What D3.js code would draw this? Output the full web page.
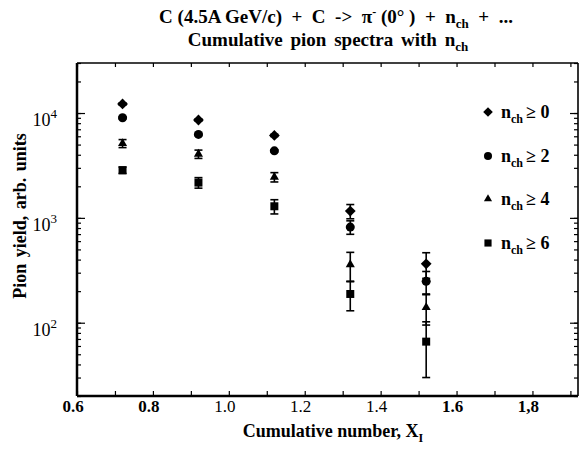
<!DOCTYPE html>
<html><head><meta charset="utf-8">
<script src="https://cdn.jsdelivr.net/npm/d3@7"></script>
<style>
html,body{margin:0;padding:0;background:#fff;}
svg{display:block;font-family:"Liberation Serif","Times New Roman",serif;font-weight:bold;}
</style></head>
<body><svg id="c" width="583" height="458"></svg>
<script>
// ---- data ----
const xValues = [0.72, 0.92, 1.12, 1.32, 1.52];
const nch0 = [12200, 8580, 6120, 1160, 365];
const nch2 = [9020, 6250, 4360, 817, 248];
const nch4 = [5130, 4060, 2450, 359, 140];
const nch6 = [2850, 2170, 1290, 188, 66];
const err0 = [300, 200, 150, 180, 100];
const err2 = [200, 150, 100, 120, 60];
const err4 = [450, 370, 250, 110, 45];
const err6 = [200, 250, 200, 58, 36];
const seriesNames = ["0", "2", "4", "6"];
const xTickValues = [0.6, 0.8, 1.0, 1.2, 1.4, 1.6, 1.8];
const xTickLabels = ["0.6", "0.8", "1.0", "1.2", "1.4", "1.6", "1,8"];
const yTickValues = [100, 1000, 10000];
const yTickExponents = ["2", "3", "4"];

const svg = d3.select("#c");
const L = 77, R = 578, T = 63, B = 396;
const x = d3.scaleLinear().domain([0.6, 1.92]).range([L, R]);
const y = d3.scaleLog().domain([20, 30000]).range([B, T]);

const series = [
  {vals: nch0, errs: err0, sym: d3.symbolSquare, size: 58, rot: 45},
  {vals: nch2, errs: err2, sym: d3.symbolCircle, size: 64, rot: 0},
  {vals: nch4, errs: err4, sym: d3.symbolTriangle, size: 36, rot: 0},
  {vals: nch6, errs: err6, sym: d3.symbolSquare, size: 64, rot: 0}
];

// minor/major ticks
const g = svg.append("g");
const minorX = d3.range(6, 20).map(v => v / 10);
const logTicks = y.ticks();
g.append("g").attr("transform", `translate(0,${B})`)
  .call(d3.axisTop(x).tickValues(minorX).tickSize(5).tickFormat(""))
  .call(a => a.select(".domain").remove());
g.append("g").attr("transform", `translate(0,${T})`)
  .call(d3.axisBottom(x).tickValues(minorX).tickSize(4).tickFormat(""))
  .call(a => a.select(".domain").remove());
g.append("g").attr("transform", `translate(${L},0)`)
  .call(d3.axisRight(y).tickValues(logTicks).tickSize(4).tickFormat(""))
  .call(a => a.select(".domain").remove());
g.append("g").attr("transform", `translate(${L},0)`)
  .call(d3.axisRight(y).tickValues(yTickValues).tickSize(8).tickFormat(""))
  .call(a => a.select(".domain").remove());
g.append("g").attr("transform", `translate(${R},0)`)
  .call(d3.axisLeft(y).tickValues(logTicks).tickSize(4).tickFormat(""))
  .call(a => a.select(".domain").remove());
g.append("g").attr("transform", `translate(${R},0)`)
  .call(d3.axisLeft(y).tickValues(yTickValues).tickSize(8).tickFormat(""))
  .call(a => a.select(".domain").remove());
g.selectAll(".tick line").attr("stroke", "#000").attr("stroke-width", 1.2);

// frame
svg.append("line").attr("x1", L).attr("x2", L).attr("y1", T).attr("y2", B).attr("stroke", "#000").attr("stroke-width", 2.5);
svg.append("line").attr("x1", L).attr("x2", R).attr("y1", B).attr("y2", B).attr("stroke", "#000").attr("stroke-width", 2.5);
svg.append("line").attr("x1", L).attr("x2", R).attr("y1", T).attr("y2", T).attr("stroke", "#000").attr("stroke-width", 1.6);
svg.append("line").attr("x1", R).attr("x2", R).attr("y1", T).attr("y2", B).attr("stroke", "#000").attr("stroke-width", 1.6);

// x tick labels
svg.append("g").selectAll("text").data(xTickValues).join("text")
  .attr("x", d => x(d) - 4).attr("y", 412)
  .attr("text-anchor", "middle").attr("font-size", 17)
  .attr("font-weight", (d, i) => (i >= 2 && i <= 4) ? "normal" : "bold")
  .text((d, i) => xTickLabels[i]);

// y tick labels
const yl = svg.append("g").selectAll("text").data(yTickValues).join("text")
  .attr("x", 57).attr("y", d => y(d) + 13)
  .attr("text-anchor", "end").attr("font-size", 18).attr("font-weight", "normal");
yl.append("tspan").text("10");
yl.append("tspan").attr("dy", -8).attr("font-size", 13).text((d, i) => yTickExponents[i]);

// axis titles
const xt = svg.append("text").attr("x", 333).attr("y", 437).attr("text-anchor", "middle").attr("font-size", 18);
xt.append("tspan").text("Cumulative number, X");
xt.append("tspan").attr("dy", 5).attr("font-size", 12).text("I");

svg.append("text").attr("transform", "translate(26,216) rotate(-90)")
  .attr("text-anchor", "middle").attr("font-size", 18).attr("word-spacing", 2)
  .text("Pion yield, arb. units");

// title
const t1 = svg.append("text").attr("x", 336).attr("y", 23).attr("text-anchor", "middle").attr("font-size", 19)
  .attr("xml:space", "preserve").style("white-space", "pre");
t1.append("tspan").text("C (4.5A GeV/c)  +  C  ->  π");
t1.append("tspan").attr("dy", -7).attr("font-size", 12).text("-");
t1.append("tspan").attr("dy", 7).text(" (0° )  +  n");
t1.append("tspan").attr("dy", 5).attr("font-size", 13).text("ch");
t1.append("tspan").attr("dy", -5).text("  +  ...");
const t2 = svg.append("text").attr("x", 328).attr("y", 46).attr("text-anchor", "middle").attr("font-size", 19)
  .attr("word-spacing", 3);
t2.append("tspan").text("Cumulative pion spectra with n");
t2.append("tspan").attr("dy", 5).attr("font-size", 13).text("ch");

// error bars and markers
const pts = svg.append("g");
series.forEach(s => {
  const eg = pts.append("g").attr("stroke", "#000").attr("stroke-width", 1.6);
  xValues.forEach((xv, i) => {
    const v = s.vals[i], e = s.errs[i];
    const y1 = y(v + e), y2 = y(Math.max(v - e, 1));
    eg.append("line").attr("x1", x(xv)).attr("x2", x(xv)).attr("y1", y1).attr("y2", y2);
    eg.append("line").attr("x1", x(xv) - 4).attr("x2", x(xv) + 4).attr("y1", y1).attr("y2", y1);
    eg.append("line").attr("x1", x(xv) - 4).attr("x2", x(xv) + 4).attr("y1", y2).attr("y2", y2);
  });
  pts.append("g").selectAll("path").data(s.vals).join("path")
    .attr("d", d3.symbol(s.sym, s.size))
    .attr("transform", (d, i) => `translate(${x(xValues[i])},${y(d)}) rotate(${s.rot})`)
    .attr("fill", "#000");
});

// legend
const legY = [112, 156, 199, 243];
const leg = svg.append("g");
series.forEach((s, i) => {
  leg.append("path").attr("d", d3.symbol(s.sym, s.size * 0.8))
    .attr("transform", `translate(488,${legY[i]}) rotate(${s.rot})`).attr("fill", "#000");
  const lt = leg.append("text").attr("x", 501).attr("y", legY[i] + 6).attr("font-size", 18);
  lt.append("tspan").text("n");
  lt.append("tspan").attr("dy", 5).attr("font-size", 12).text("ch");
  lt.append("tspan").attr("dy", -5).attr("dx", 3).text("≥ " + seriesNames[i]);
});
</script></body></html>
